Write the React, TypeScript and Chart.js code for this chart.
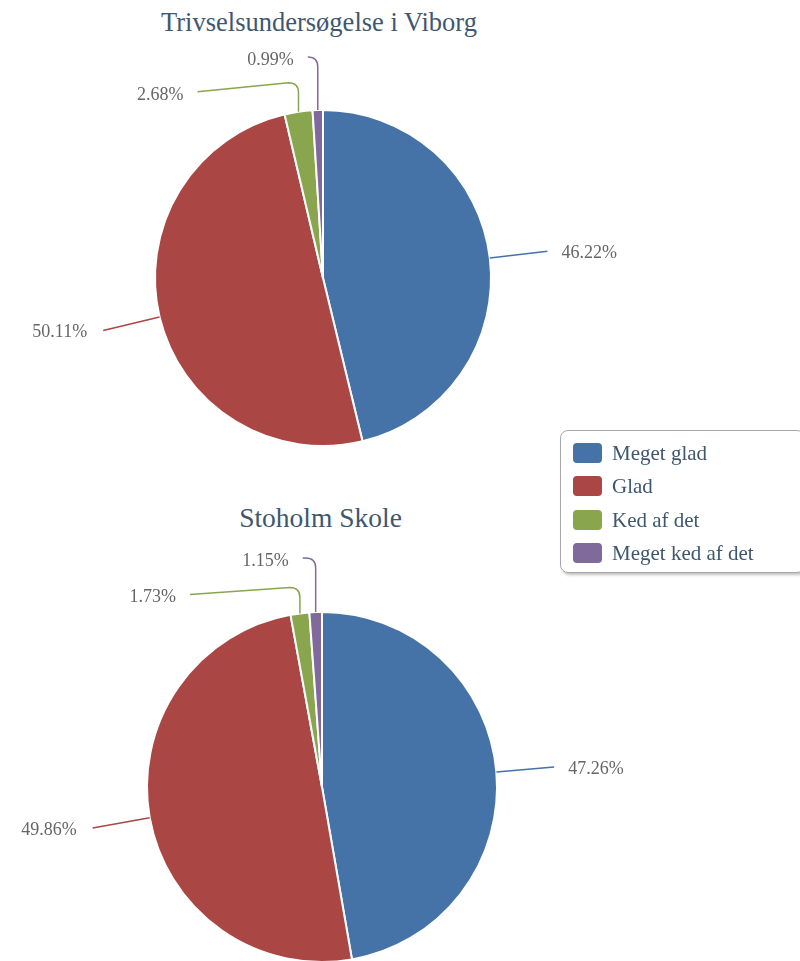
import React, { useEffect, useRef } from 'react';
import { Chart, registerables } from 'chart.js';

Chart.register(...registerables);

const categories = ['Meget glad', 'Glad', 'Ked af det', 'Meget ked af det'];
const viborgValues = [46.22, 50.11, 2.68, 0.99];
const stoholmValues = [47.26, 49.86, 1.73, 1.15];
const sliceColors = ['#4572A7', '#AA4643', '#89A54E', '#80699B'];
const chartTitles = ['Trivselsundersøgelse i Viborg', 'Stoholm Skole'];

const FONT = '"Liberation Serif", "Times New Roman", serif';
const TEXT_COLOR = '#3E576F';
const LABEL_COLOR = '#666666';

const calloutPlugin = {
  id: 'callout',
  afterDatasetsDraw(chart: any, _args: any, opts: any) {
    const ctx = chart.ctx;
    const meta = chart.getDatasetMeta(0);
    const data = chart.data.datasets[0].data;
    const colors = chart.data.datasets[0].backgroundColor;
    const small = (opts && opts.small) || {};
    const extra = (opts && opts.extra) || 58;
    ctx.save();
    ctx.font = `${opts.fontSize || 18}px ${FONT}`;
    ctx.textBaseline = 'middle';
    meta.data.forEach((arc: any, i: number) => {
      const p = arc.getProps(['x', 'y', 'startAngle', 'endAngle', 'outerRadius'], true);
      const mid = (p.startAngle + p.endAngle) / 2;
      const c = Math.cos(mid);
      const s = Math.sin(mid);
      const px = p.x + c * p.outerRadius;
      const py = p.y + s * p.outerRadius;
      const text = Number(data[i]).toFixed(2) + '%';
      ctx.strokeStyle = colors[i];
      ctx.lineWidth = 1.5;
      ctx.beginPath();
      const sm = small[i];
      let tx: number;
      let ty: number;
      let align: CanvasTextAlign;
      if (sm) {
        const ax = px + sm.dx;
        const ay = py + sm.dy;
        const cy = py + sm.rise;
        ctx.moveTo(ax, ay);
        if (px - 10 > ax) ctx.lineTo(px - 10, cy);
        ctx.quadraticCurveTo(px, cy, px, cy + 10);
        ctx.lineTo(px, py);
        ctx.stroke();
        tx = ax - 14;
        ty = ay + 3;
        align = 'right';
      } else {
        const R = p.outerRadius + extra;
        const ex = p.x + c * R;
        const ey = p.y + s * R;
        ctx.moveTo(px, py);
        ctx.lineTo(ex, ey);
        ctx.stroke();
        if (c >= 0) {
          tx = ex + 14;
          align = 'left';
        } else {
          tx = ex - 16;
          align = 'right';
        }
        ty = ey + 2;
      }
      ctx.fillStyle = LABEL_COLOR;
      ctx.textAlign = align;
      ctx.fillText(text, tx, ty);
    });
    ctx.restore();
  },
};

function PieChart(props: {
  values: number[];
  radius: number;
  padding: any;
  width: number;
  height: number;
  small: any;
  style: React.CSSProperties;
}) {
  const ref = useRef<HTMLCanvasElement | null>(null);
  useEffect(() => {
    if (!ref.current) return;
    const chart = new Chart(ref.current, {
      type: 'pie',
      data: {
        labels: categories,
        datasets: [
          {
            data: props.values,
            backgroundColor: sliceColors,
            borderColor: '#ffffff',
            borderWidth: 2,
          },
        ],
      },
      options: {
        responsive: false,
        animation: false,
        radius: props.radius,
        layout: { padding: props.padding },
        plugins: {
          legend: { display: false },
          tooltip: { enabled: false },
          title: { display: false },
          callout: { small: props.small, fontSize: 18, extra: 58 },
        } as any,
        events: [],
      } as any,
      plugins: [calloutPlugin],
    });
    return () => chart.destroy();
  }, []);
  return <canvas ref={ref} width={props.width} height={props.height} style={props.style} />;
}

export default function App() {
  return (
    <div
      style={{
        position: 'absolute',
        left: 0,
        top: 0,
        width: 800,
        height: 961,
        overflow: 'hidden',
        background: '#ffffff',
        fontFamily: FONT,
      }}
    >
      <div
        style={{
          position: 'absolute',
          left: 0,
          top: 9,
          width: 638,
          textAlign: 'center',
          fontSize: 26.5,
          lineHeight: '26.5px',
          color: TEXT_COLOR,
          whiteSpace: 'nowrap',
        }}
      >
        {chartTitles[0]}
      </div>
      <div
        style={{
          position: 'absolute',
          left: 0,
          top: 504,
          width: 641,
          textAlign: 'center',
          fontSize: 27.5,
          lineHeight: '27.5px',
          color: TEXT_COLOR,
          whiteSpace: 'nowrap',
        }}
      >
        {chartTitles[1]}
      </div>
      <PieChart
        values={viborgValues}
        radius={168}
        width={800}
        height={480}
        padding={{ left: 0, right: 154, top: 76, bottom: 0 }}
        small={{ 2: { dx: -101, dy: -20, rise: -29 }, 3: { dx: -10, dy: -53, rise: -53 } }}
        style={{ position: 'absolute', left: 0, top: 0 }}
      />
      <PieChart
        values={stoholmValues}
        radius={175}
        width={800}
        height={490}
        padding={{ left: 0, right: 156, top: 104, bottom: 0 }}
        small={{ 2: { dx: -110, dy: -19, rise: -26 }, 3: { dx: -13, dy: -54, rise: -54 } }}
        style={{ position: 'absolute', left: 0, top: 490 }}
      />
      <div
        style={{
          position: 'absolute',
          left: 560,
          top: 430,
          width: 245,
          height: 143,
          border: '1.5px solid #a8a8a8',
          borderRadius: 8,
          boxShadow: '2px 2px 3px rgba(0,0,0,0.25)',
          background: '#ffffff',
          boxSizing: 'border-box',
        }}
      >
        {categories.map((cat, i) => (
          <div
            key={cat}
            style={{
              position: 'absolute',
              left: 12,
              top: 12 + i * 33.3,
              height: 20,
              display: 'flex',
              alignItems: 'center',
              whiteSpace: 'nowrap',
            }}
          >
            <div
              style={{
                width: 29,
                height: 20,
                borderRadius: 4,
                background: sliceColors[i],
                marginRight: 10,
              }}
            />
            <span style={{ fontSize: 21, lineHeight: '20px', color: TEXT_COLOR }}>{cat}</span>
          </div>
        ))}
      </div>
    </div>
  );
}
